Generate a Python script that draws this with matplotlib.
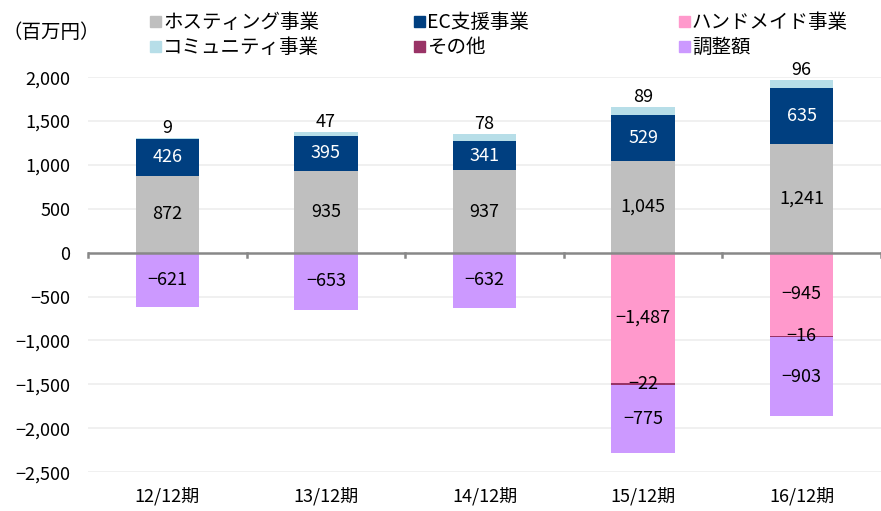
import numpy as np
import matplotlib.pyplot as plt
from matplotlib.patches import Rectangle

plt.rcParams['font.family'] = ['Noto Sans CJK JP', 'DejaVu Sans']
plt.rcParams['axes.unicode_minus'] = True

# データ（百万円）
periods = ['12/12期', '13/12期', '14/12期', '15/12期', '16/12期']
hosting = [872, 935, 937, 1045, 1241]
ec = [426, 395, 341, 529, 635]
community = [9, 47, 78, 89, 96]
handmade = [0, 0, 0, -1487, -945]
other = [0, 0, 0, -22, -16]
adjust = [-621, -653, -632, -775, -903]

c_host = '#BFBFBF'
c_ec = '#003F80'
c_hand = '#FF99CC'
c_comm = '#B7DEE8'
c_other = '#993366'
c_adj = '#CC99FF'


def fmt(v):
    return f'{v:,}'.replace('-', '\u2212')


W, H = 881, 511
fig = plt.figure(figsize=(W / 100, H / 100), dpi=100)
ax = fig.add_axes([0.1, 0.076, 0.9, 0.773])

x = np.arange(len(periods))
w = 0.4
host = np.array(hosting)
ecv = np.array(ec)
comm = np.array(community)
hand = np.array(handmade)
oth = np.array(other)
adj = np.array(adjust)

ax.bar(x, host, w, color=c_host, zorder=2)
ax.bar(x, ecv, w, bottom=host, color=c_ec, zorder=2)
ax.bar(x, comm, w, bottom=host + ecv, color=c_comm, zorder=2)
ax.bar(x, hand, w, color=c_hand, zorder=2)
ax.bar(x, oth, w, bottom=hand, color=c_other, zorder=2)
ax.bar(x, adj, w, bottom=hand + oth, color=c_adj, zorder=2)

fs = 13
for i in range(len(x)):
    ax.text(x[i], host[i] / 2, fmt(host[i]), ha='center', va='center', fontsize=fs)
    ax.text(x[i], host[i] + ecv[i] / 2, fmt(ecv[i]), ha='center', va='center',
            fontsize=fs, color='white')
    ax.text(x[i], host[i] + ecv[i] + comm[i] + 10, fmt(comm[i]), ha='center',
            va='bottom', fontsize=fs)
    if hand[i] != 0:
        ax.text(x[i], hand[i] / 2, fmt(hand[i]), ha='center', va='center', fontsize=fs)
    if oth[i] != 0:
        ax.text(x[i], hand[i] + oth[i] / 2, fmt(oth[i]), ha='center', va='center',
                fontsize=fs)
    ax.text(x[i], hand[i] + oth[i] + adj[i] / 2, fmt(adj[i]), ha='center',
            va='center', fontsize=fs)

ax.set_xlim(-0.5, len(x) - 0.5)
ax.set_ylim(-2500, 2000)
yt = np.arange(-2500, 2001, 500)
ax.set_yticks(yt)
ax.set_yticklabels([fmt(v) for v in yt], fontsize=13)
ax.set_xticks(x)
ax.set_xticklabels(periods, fontsize=13)
ax.tick_params(axis='both', length=0)
ax.tick_params(axis='x', pad=11)
ax.tick_params(axis='y', pad=13)
for v in yt:
    if v != 0:
        ax.axhline(v, color='#EEEEEE', lw=1.2, zorder=0)
ax.axhline(0, color='#888888', lw=1.8, zorder=3)
for b in np.arange(-0.5, len(x) - 0.4, 1.0):
    ax.plot([b, b], [0, -45], color='#888888', lw=1.8, zorder=3, clip_on=False)
for s in ax.spines.values():
    s.set_visible(False)

# 凡例（手動配置）
legend_items = [
    ('ホスティング事業', c_host, 150, 22),
    ('コミュニティ事業', c_comm, 150, 47),
    ('EC支援事業', c_ec, 414, 22),
    ('その他', c_other, 414, 47),
    ('ハンドメイド事業', c_hand, 679, 22),
    ('調整額', c_adj, 679, 47),
]
sq = 11
for label, col, px, py in legend_items:
    fig.patches.append(Rectangle((px / W, 1 - (py + sq / 2) / H), sq / W, sq / H,
                                 transform=fig.transFigure, color=col))
    fig.text((px + sq + 2) / W, 1 - py / H, label, fontsize=14, va='center')
fig.text(3 / W, 1 - 33 / H, '（百万円）', fontsize=14, va='center')

plt.savefig('out.png', dpi=100)
